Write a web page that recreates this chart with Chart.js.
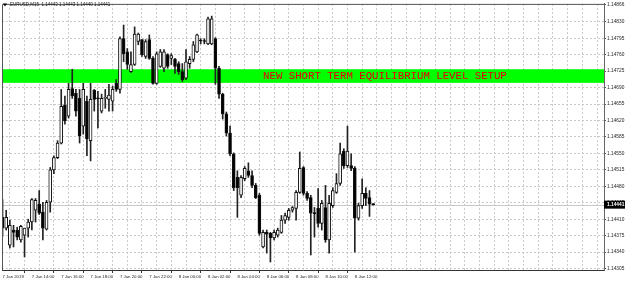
<!DOCTYPE html>
<html><head><meta charset="utf-8">
<script src="https://cdn.jsdelivr.net/npm/chart.js@4.4.1/dist/chart.umd.min.js"></script>
<style>html,body{margin:0;padding:0;background:#fff;overflow:hidden}canvas{display:block}</style>
</head><body>
<canvas id="c" width="625" height="281"></canvas>
<script>
// ---- data (EURUSD, M15, from 7 Jan 2019 12:00) ----
const symbol = 'EURUSD,M15';
const open  = [1.14414,1.14391,1.14355,1.14387,1.14387,1.14366,1.14376,1.14391,1.14404,1.14429,1.14442,1.14425,1.14389,1.14446,1.14515,1.14541,1.14572,1.14653,1.14629,1.14688,1.14678,1.14667,1.14608,1.14661,1.14577,1.14684,1.14667,1.14640,1.14667,1.14665,1.14661,1.14699,1.14686,1.14794,1.14766,1.14724,1.14739,1.14788,1.14792,1.14756,1.14792,1.14752,1.14699,1.14735,1.14731,1.14760,1.14752,1.14750,1.14741,1.14724,1.14710,1.14741,1.14750,1.14766,1.14790,1.14789,1.14783,1.14783,1.14794,1.14731,1.14676,1.14634,1.14593,1.14549,1.14499,1.14461,1.14496,1.14513,1.14503,1.14482,1.14461,1.14351,1.14382,1.14380,1.14370,1.14376,1.14382,1.14408,1.14414,1.14429,1.14433,1.14467,1.14520,1.14465,1.14456,1.14423,1.14433,1.14401,1.14435,1.14366,1.14439,1.14467,1.14486,1.14555,1.14524,1.14524,1.14518,1.14412,1.14439,1.14465,1.14456,1.14443];
const high  = [1.14452,1.14429,1.14408,1.14397,1.14393,1.14397,1.14391,1.14410,1.14454,1.14454,1.14471,1.14446,1.14450,1.14520,1.14545,1.14577,1.14686,1.14672,1.14699,1.14729,1.14686,1.14686,1.14699,1.14672,1.14699,1.14686,1.14682,1.14676,1.14686,1.14697,1.14693,1.14707,1.14798,1.14823,1.14773,1.14766,1.14819,1.14806,1.14792,1.14792,1.14802,1.14756,1.14766,1.14771,1.14771,1.14762,1.14762,1.14752,1.14745,1.14741,1.14771,1.14756,1.14788,1.14804,1.14794,1.14794,1.14840,1.14842,1.14796,1.14735,1.14678,1.14638,1.14608,1.14551,1.14513,1.14503,1.14522,1.14530,1.14513,1.14486,1.14465,1.14387,1.14387,1.14382,1.14387,1.14391,1.14418,1.14423,1.14433,1.14437,1.14471,1.14553,1.14522,1.14469,1.14461,1.14435,1.14475,1.14450,1.14482,1.14461,1.14477,1.14507,1.14572,1.14560,1.14608,1.14549,1.14522,1.14444,1.14496,1.14477,1.14471,1.14443];
const low   = [1.14374,1.14387,1.14349,1.14351,1.14366,1.14361,1.14330,1.14372,1.14387,1.14404,1.14420,1.14366,1.14387,1.14425,1.14507,1.14539,1.14570,1.14612,1.14625,1.14667,1.14629,1.14572,1.14591,1.14545,1.14534,1.14640,1.14604,1.14636,1.14646,1.14640,1.14640,1.14682,1.14678,1.14745,1.14729,1.14722,1.14737,1.14781,1.14756,1.14752,1.14750,1.14697,1.14697,1.14733,1.14724,1.14731,1.14739,1.14720,1.14718,1.14703,1.14707,1.14731,1.14745,1.14764,1.14783,1.14783,1.14781,1.14781,1.14697,1.14667,1.14623,1.14587,1.14545,1.14471,1.14414,1.14456,1.14492,1.14499,1.14477,1.14454,1.14376,1.14349,1.14338,1.14319,1.14366,1.14372,1.14380,1.14401,1.14408,1.14425,1.14408,1.14465,1.14461,1.14450,1.14334,1.14372,1.14393,1.14387,1.14361,1.14338,1.14435,1.14465,1.14482,1.14518,1.14520,1.14513,1.14340,1.14408,1.14433,1.14439,1.14416,1.14440];
const close = [1.14391,1.14414,1.14397,1.14382,1.14372,1.14395,1.14391,1.14404,1.14452,1.14450,1.14423,1.14391,1.14446,1.14515,1.14541,1.14572,1.14650,1.14619,1.14686,1.14672,1.14640,1.14587,1.14686,1.14581,1.14665,1.14665,1.14666,1.14667,1.14668,1.14674,1.14686,1.14686,1.14794,1.14762,1.14739,1.14739,1.14804,1.14804,1.14760,1.14788,1.14752,1.14699,1.14762,1.14766,1.14766,1.14735,1.14758,1.14735,1.14724,1.14707,1.14745,1.14750,1.14781,1.14802,1.14789,1.14788,1.14836,1.14836,1.14731,1.14676,1.14634,1.14593,1.14549,1.14477,1.14477,1.14499,1.14518,1.14503,1.14482,1.14456,1.14380,1.14382,1.14378,1.14370,1.14382,1.14387,1.14408,1.14418,1.14429,1.14435,1.14467,1.14518,1.14465,1.14454,1.14423,1.14422,1.14401,1.14444,1.14366,1.14444,1.14471,1.14486,1.14549,1.14524,1.14555,1.14518,1.14412,1.14439,1.14465,1.14454,1.14442,1.14441];
const xTickLabels = ['7 Jan 2019','7 Jan 14:00','7 Jan 16:00','7 Jan 18:00','7 Jan 20:00','7 Jan 22:00','8 Jan 00:00','8 Jan 02:00','8 Jan 04:00','8 Jan 06:00','8 Jan 08:00','8 Jan 10:00','8 Jan 12:00'];
const yTickValues = [1.14305,1.14340,1.14375,1.14410,1.14445,1.14480,1.14515,1.14550,1.14585,1.14620,1.14655,1.14690,1.14725,1.14760,1.14795,1.14830,1.14866];
const levelZone = [1.14700, 1.14729];
const levelText = 'NEW SHORT TERM EQUILIBRIUM LEVEL SETUP';
const levelTextBar = 71;

const idx = open.map((_, i) => i);
const isBull = idx.map(i => close[i] >= open[i]);
const lastClose = close[close.length - 1];
const n = open.length;

const overlay = {
  id: 'overlay',
  beforeDatasetsDraw(chart) {
    const {ctx, chartArea: a, scales: {x, y}} = chart;
    ctx.save();
    const yt = y.getPixelForValue(levelZone[1]), yb = y.getPixelForValue(levelZone[0]);
    ctx.fillStyle = '#00ff00';
    ctx.fillRect(a.left, yt, a.right - a.left, yb - yt);
    ctx.fillStyle = '#e80000';
    ctx.font = '10.7px "Liberation Mono", monospace';
    ctx.textBaseline = 'middle';
    ctx.textAlign = 'left';
    ctx.fillText(levelText, x.getPixelForValue(levelTextBar), (yt + yb) / 2 + 0.5);
    const yp = Math.round(y.getPixelForValue(lastClose)) + 0.5;
    ctx.strokeStyle = '#c8c8c8';
    ctx.lineWidth = 1;
    ctx.beginPath(); ctx.moveTo(a.left, yp); ctx.lineTo(a.right, yp); ctx.stroke();
    ctx.restore();
  },
  afterDraw(chart) {
    const {ctx, chartArea: a, scales: {y}} = chart;
    ctx.save();
    ctx.strokeStyle = '#555';
    ctx.lineWidth = 1;
    ctx.beginPath();
    ctx.moveTo(a.left + 0.5, a.bottom); ctx.lineTo(a.left + 0.5, a.top + 0.5); ctx.lineTo(a.right, a.top + 0.5);
    ctx.stroke();
    // header
    ctx.fillStyle = '#000';
    ctx.beginPath(); ctx.moveTo(3, 3.5); ctx.lineTo(7, 3.5); ctx.lineTo(5, 6.5); ctx.closePath(); ctx.fill();
    ctx.font = '4.5px "Liberation Sans", sans-serif';
    ctx.textBaseline = 'middle';
    ctx.fillStyle = '#111';
    const hdr = symbol + '  ' + [open[n-1], high[n-1], low[n-1], close[n-1]].map(v => v.toFixed(5)).join(' ');
    ctx.fillText(hdr, 10, 5);
    // current price label
    const yp = y.getPixelForValue(lastClose);
    ctx.fillStyle = '#000';
    ctx.fillRect(a.right, yp - 4, 625 - a.right, 8);
    ctx.fillStyle = '#fff';
    ctx.font = 'bold 4.8px "Liberation Sans", sans-serif';
    ctx.fillText(lastClose.toFixed(5), a.right + 3, yp);
    ctx.restore();
  }
};

new Chart(document.getElementById('c'), {
  type: 'bar',
  data: {
    datasets: [
      { label: 'body', data: idx.map(i => ({x: i, y: [open[i], close[i]]})),
        backgroundColor: idx.map(i => isBull[i] ? '#ffffff' : '#000000'),
        borderColor: '#111', borderWidth: 1, borderSkipped: false,
        barThickness: 3, minBarLength: 1, grouped: false, order: 0 },
      { label: 'wick', data: idx.map(i => ({x: i, y: [low[i], high[i]]})),
        backgroundColor: '#222', borderWidth: 0,
        barThickness: 1, grouped: false, order: 1 }
    ]
  },
  options: {
    responsive: false, animation: false, devicePixelRatio: 1,
    layout: { padding: { left: 2, top: 2, right: 0, bottom: 0 } },
    plugins: { legend: { display: false }, tooltip: { enabled: false } },
    scales: {
      x: {
        type: 'linear', min: -0.14, max: 163.9, offset: false,
        afterBuildTicks: s => { const t = []; for (let v = 0; v <= 163; v += 4) t.push({value: v}); s.ticks = t; },
        afterFit: s => { s.height = 11; },
        ticks: {
          autoSkip: false, maxRotation: 0, minRotation: 0, align: 'start', padding: 1,
          color: '#222', font: { family: 'Liberation Sans', size: 4.3 },
          callback: v => (v % 8 === 0 && xTickLabels[v / 8] !== undefined) ? xTickLabels[v / 8] : ''
        },
        grid: { color: '#c8c8c8', tickLength: 3,
          tickColor: c => (c.tick && c.tick.value % 8 === 0 && c.tick.value / 8 < xTickLabels.length) ? '#333' : 'rgba(0,0,0,0)' },
        border: { color: '#333', dash: [2, 2] }
      },
      y: {
        position: 'right', min: 1.14302, max: 1.14868,
        afterBuildTicks: s => { s.ticks = yTickValues.map(v => ({value: v})); },
        afterFit: s => { s.width = 21; },
        ticks: { padding: 1, color: '#222', font: { family: 'Liberation Sans', size: 4.8 },
          callback: v => v.toFixed(5) },
        grid: { color: '#c8c8c8', tickLength: 2, tickColor: '#555' },
        border: { color: '#666', dash: [2, 2] }
      }
    }
  },
  plugins: [overlay]
});
</script>
</body></html>
